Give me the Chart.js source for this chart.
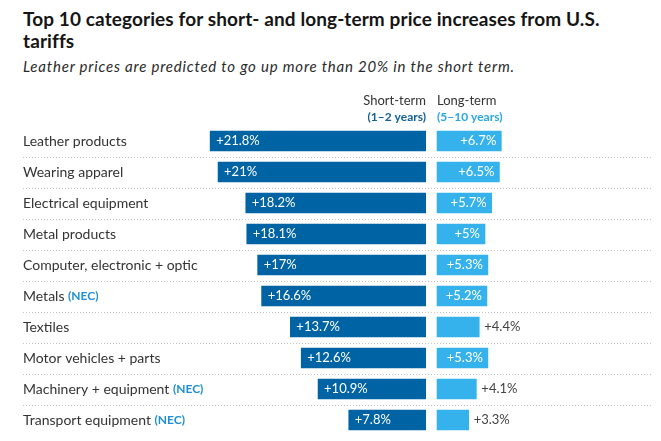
<!DOCTYPE html>
<html>
<head>
<meta charset="utf-8">
<script src="https://cdn.jsdelivr.net/npm/chart.js@4"></script>
<style>
  html, body { margin: 0; padding: 0; background: #ffffff; }
  body { width: 661px; height: 441px; position: relative; overflow: hidden; }
  #title { position: absolute; left: 23px; top: 8px; font-family: Lato, sans-serif; font-weight: 700; font-size: 19px; line-height: 22px; letter-spacing: 0.1px; color: #151515; white-space: nowrap; }
  #subtitle { position: absolute; left: 23px; top: 57px; font-family: Lato, sans-serif; font-style: italic; font-size: 15px; line-height: 18px; letter-spacing: 0.8px; color: #2a2a2a; white-space: nowrap; }
  #chart { position: absolute; left: 0; top: 0; }
</style>
</head>
<body>
<div id="title">Top 10 categories for short- and long-term price increases from U.S.<br>tariffs</div>
<div id="subtitle">Leather prices are predicted to go up more than 20% in the short term.</div>
<canvas id="chart" width="661" height="441"></canvas>
<script>
const categories = [
  'Leather products',
  'Wearing apparel',
  'Electrical equipment',
  'Metal products',
  'Computer, electronic + optic',
  'Metals',
  'Textiles',
  'Motor vehicles + parts',
  'Machinery + equipment',
  'Transport equipment'
];
const categoryNotes = ['', '', '', '', '', '(NEC)', '', '', '(NEC)', '(NEC)'];
const shortTerm = [21.8, 21, 18.2, 18.1, 17, 16.6, 13.7, 12.6, 10.9, 7.8];
const longTerm = [6.7, 6.5, 5.7, 5, 5.3, 5.2, 4.4, 5.3, 4.1, 3.3];
const seriesNames = ['Short-term', 'Long-term'];
const seriesPeriods = ['(1–2 years)', '(5–10 years)'];

const DARK = '#0063a3';
const LIGHT = '#35b2ec';
const FONT = 'Lato, sans-serif';

function fmt(v) { return '+' + v + '%'; }

const overlay = {
  id: 'overlay',
  beforeDatasetsDraw(chart) {
    const ctx = chart.ctx;
    const y = chart.scales.y;
    const area = chart.chartArea;
    ctx.save();
    ctx.strokeStyle = '#c4c4c4';
    ctx.lineWidth = 1;
    ctx.setLineDash([1, 2]);
    for (let i = 0; i < categories.length - 1; i++) {
      const py = Math.round(y.getPixelForValue(i + 0.5)) + 0.5;
      ctx.beginPath();
      ctx.moveTo(area.left, py);
      ctx.lineTo(area.right, py);
      ctx.stroke();
    }
    ctx.restore();
  },
  afterDatasetsDraw(chart) {
    const ctx = chart.ctx;
    const y = chart.scales.y;
    const xs = chart.scales.xs;
    const xl = chart.scales.xl;
    const area = chart.chartArea;
    ctx.save();
    // category labels
    ctx.textBaseline = 'middle';
    ctx.textAlign = 'left';
    categories.forEach((c, i) => {
      const py = y.getPixelForValue(i);
      ctx.font = '14px ' + FONT;
      ctx.fillStyle = '#333333';
      ctx.fillText(c, area.left, py);
      if (categoryNotes[i]) {
        const w = ctx.measureText(c + ' ').width;
        ctx.font = 'bold 12px ' + FONT;
        ctx.fillStyle = '#1e8fd6';
        ctx.fillText(categoryNotes[i], area.left + w, py + 0.5);
      }
    });
    // value labels
    const m0 = chart.getDatasetMeta(0).data;
    const m1 = chart.getDatasetMeta(1).data;
    ctx.font = '13px ' + FONT;
    m0.forEach((bar, i) => {
      ctx.fillStyle = '#ffffff';
      ctx.textAlign = 'left';
      ctx.fillText(fmt(shortTerm[i]), bar.x + 6, bar.y);
    });
    m1.forEach((bar, i) => {
      const t = fmt(longTerm[i]);
      const w = ctx.measureText(t).width;
      const bw = Math.abs(bar.x - bar.base);
      if (w + 10 <= bw) {
        ctx.fillStyle = '#ffffff';
        ctx.textAlign = 'right';
        ctx.fillText(t, bar.x - 5, bar.y);
      } else {
        ctx.fillStyle = '#444444';
        ctx.textAlign = 'left';
        ctx.fillText(t, bar.x + 5, bar.y);
      }
    });
    // headers
    const sx = xs.getPixelForValue(0);
    const lx = xl.getPixelForValue(0);
    ctx.textBaseline = 'alphabetic';
    ctx.font = '13px ' + FONT;
    ctx.fillStyle = '#333333';
    ctx.textAlign = 'right';
    ctx.fillText(seriesNames[0], sx, 105);
    ctx.textAlign = 'left';
    ctx.fillText(seriesNames[1], lx, 105);
    ctx.font = 'bold 12px ' + FONT;
    ctx.textAlign = 'right';
    ctx.fillStyle = '#0f5f9a';
    ctx.fillText(seriesPeriods[0], sx, 121);
    ctx.textAlign = 'left';
    ctx.fillStyle = '#2aa6e6';
    ctx.fillText(seriesPeriods[1], lx, 121);
    ctx.restore();
  }
};

new Chart(document.getElementById('chart'), {
  type: 'bar',
  data: {
    labels: categories,
    datasets: [
      { label: seriesNames[0], data: shortTerm, xAxisID: 'xs', backgroundColor: DARK, grouped: false, barThickness: 20 },
      { label: seriesNames[1], data: longTerm, xAxisID: 'xl', backgroundColor: LIGHT, grouped: false, barThickness: 20 }
    ]
  },
  options: {
    indexAxis: 'y',
    responsive: false,
    animation: false,
    layout: { padding: { left: 23, right: 10, top: 125.5, bottom: 5.5 } },
    plugins: { legend: { display: false }, tooltip: { enabled: false }, title: { display: false } },
    scales: {
      y: { display: false, offset: true },
      xs: { type: 'linear', position: 'bottom', stack: 'x', stackWeight: 403, weight: 0, reverse: true, min: 0, max: 40.7, display: false },
      xl: { type: 'linear', position: 'bottom', stack: 'x', stackWeight: 225, weight: 0, min: -1.146, max: 22.29, display: false }
    }
  },
  plugins: [overlay]
});
</script>
</body>
</html>
